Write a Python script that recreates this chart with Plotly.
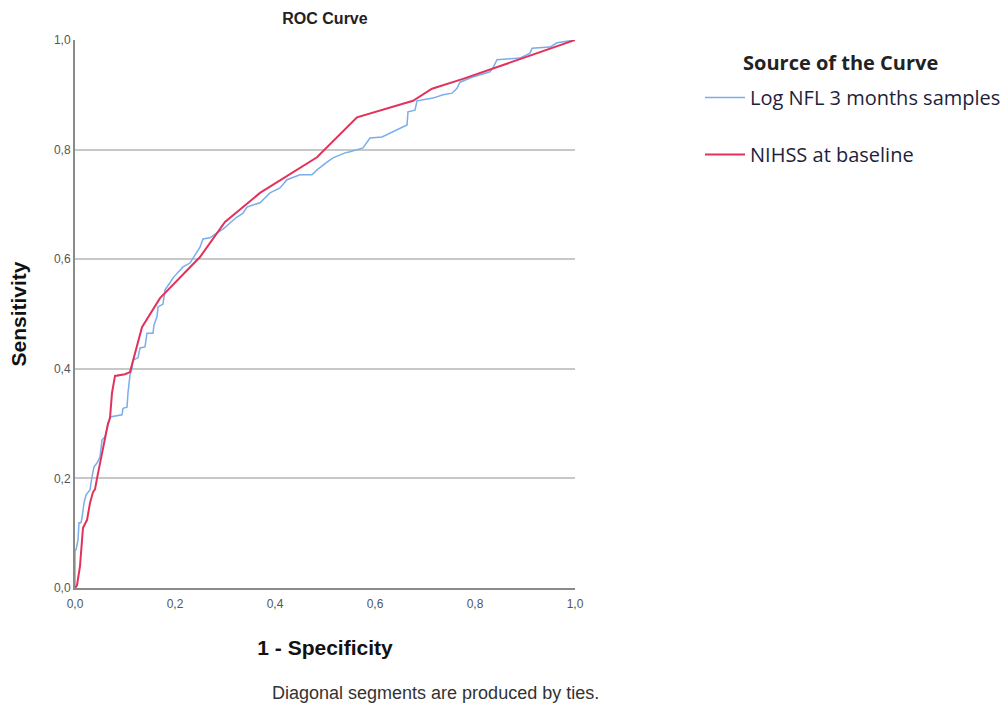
import plotly.graph_objects as go

# NIHSS at baseline ROC vertices (1 - specificity, sensitivity)
nihss_fpr = [0, 0.004, 0.01, 0.014, 0.016, 0.024, 0.03, 0.036, 0.04, 0.044, 0.05, 0.056,
             0.066, 0.07, 0.074, 0.08, 0.10, 0.11, 0.134, 0.17, 0.25, 0.30, 0.37, 0.484,
             0.564, 0.676, 0.714, 0.776, 1.0]
nihss_tpr = [0, 0.005, 0.04, 0.09, 0.11, 0.124, 0.155, 0.175, 0.18, 0.2, 0.228, 0.257,
             0.30, 0.31, 0.356, 0.387, 0.39, 0.394, 0.476, 0.529, 0.604, 0.668, 0.721, 0.786,
             0.859, 0.889, 0.911, 0.929, 1.0]

# Log NFL 3 months samples ROC vertices
nfl_fpr = [0, 0, 0.002, 0.006, 0.008, 0.012, 0.014, 0.018, 0.022, 0.03, 0.034, 0.038, 0.044,
           0.05, 0.054, 0.06, 0.07, 0.094, 0.096, 0.104, 0.106, 0.11, 0.114, 0.116, 0.126,
           0.13, 0.14, 0.144, 0.156, 0.158, 0.164, 0.166, 0.176, 0.18, 0.19, 0.196, 0.21,
           0.216, 0.23, 0.25, 0.256, 0.27, 0.284, 0.296, 0.31, 0.324, 0.336, 0.344, 0.356,
           0.37, 0.39, 0.41, 0.424, 0.45, 0.474, 0.484, 0.504, 0.516, 0.54, 0.55, 0.576,
           0.59, 0.614, 0.63, 0.644, 0.664, 0.666, 0.68, 0.684, 0.716, 0.736, 0.754, 0.764,
           0.77, 0.794, 0.81, 0.83, 0.836, 0.844, 0.89, 0.91, 0.914, 0.95, 0.964, 1.0]
nfl_tpr = [0, 0.07, 0.07, 0.088, 0.119, 0.119, 0.128, 0.155, 0.17, 0.179, 0.203, 0.221, 0.228,
           0.239, 0.27, 0.276, 0.312, 0.316, 0.328, 0.330, 0.356, 0.389, 0.40, 0.416, 0.420,
           0.438, 0.440, 0.465, 0.465, 0.48, 0.495, 0.513, 0.518, 0.544, 0.557, 0.566, 0.58,
           0.586, 0.593, 0.622, 0.637, 0.639, 0.648, 0.655, 0.666, 0.677, 0.684, 0.695, 0.699,
           0.703, 0.721, 0.730, 0.745, 0.754, 0.754, 0.763, 0.777, 0.785, 0.794, 0.796, 0.803,
           0.821, 0.823, 0.830, 0.836, 0.845, 0.869, 0.872, 0.889, 0.894, 0.900, 0.903, 0.912,
           0.923, 0.932, 0.936, 0.942, 0.949, 0.964, 0.967, 0.976, 0.985, 0.987, 0.995, 1.0]

series_names = ["Log NFL 3 months samples", "NIHSS at baseline"]
tick_vals = [0, 0.2, 0.4, 0.6, 0.8, 1.0]

W, H = 1008, 706
L, T, PW, PH = 75, 40, 500, 548


def px_x(px):
    return (px - L) / PW


def px_y(py):
    return (T + PH - py) / PH


fig = go.Figure()
fig.add_trace(go.Scatter(x=nfl_fpr, y=nfl_tpr, mode="lines", name=series_names[0],
                         legendgroup="a",
                         line=dict(color="#78aeea", width=1.5)))
fig.add_trace(go.Scatter(x=nihss_fpr, y=nihss_tpr, mode="lines", name=series_names[1],
                         legendgroup="b",
                         line=dict(color="#e2325c", width=2)))

fig.update_layout(
    width=W, height=H,
    margin=dict(l=L, r=W - L - PW, t=T, b=H - T - PH, autoexpand=False),
    paper_bgcolor="white", plot_bgcolor="white",
    separators=",.",
    title=dict(text="<b>ROC Curve</b>", x=0.5, xref="paper", xanchor="center",
               y=1, yref="container", yanchor="top", pad=dict(t=13),
               font=dict(family="Liberation Sans, Arial", size=16, color="#222")),
    showlegend=True,
    legend=dict(x=px_x(700), y=px_y(78), xanchor="left", yanchor="top",
                traceorder="grouped", tracegroupgap=28,
                font=dict(family="Open Sans, Noto Sans", size=20, color="#1e1e3c"),
                itemwidth=40, bgcolor="rgba(0,0,0,0)"),
    annotations=[
        dict(text="<b>Source of the Curve</b>", x=px_x(840), y=px_y(62),
             xref="paper", yref="paper", showarrow=False, xanchor="center", yanchor="middle",
             font=dict(family="Open Sans, Noto Sans", size=20, color="#222")),
        dict(text="Diagonal segments are produced by ties.", x=px_x(435), y=px_y(693),
             xref="paper", yref="paper", showarrow=False, xanchor="center", yanchor="middle",
             font=dict(family="Liberation Sans Narrow, Liberation Sans, Arial", size=18,
                       color="#333")),
    ],
)

fig.update_xaxes(range=[0, 1], tickvals=tick_vals, tickformat=".1f",
                 showgrid=False, zeroline=False,
                 showline=True, linecolor="#8a8a8a", linewidth=2,
                 ticks="", ticklabelstandoff=4,
                 tickfont=dict(family="Liberation Sans, Arial", size=12, color="#555"),
                 title=dict(text="<b>1 - Specificity</b>", standoff=30,
                            font=dict(family="Liberation Sans, Arial", size=21, color="#111")))
fig.update_yaxes(range=[0, 1], tickvals=tick_vals, tickformat=".1f",
                 showgrid=True, gridcolor="#c8c8c8", gridwidth=1.5, zeroline=False,
                 showline=True, linecolor="#8a8a8a", linewidth=2,
                 ticks="", tickfont=dict(family="Liberation Sans, Arial", size=12, color="#555"),
                 title=dict(text="<b>Sensitivity</b>", standoff=22,
                            font=dict(family="Liberation Sans, Arial", size=21, color="#111")))

fig.write_html("out.html", config={"displayModeBar": False},
               post_script="document.body.style.margin='0px';document.body.style.overflow='hidden';")
